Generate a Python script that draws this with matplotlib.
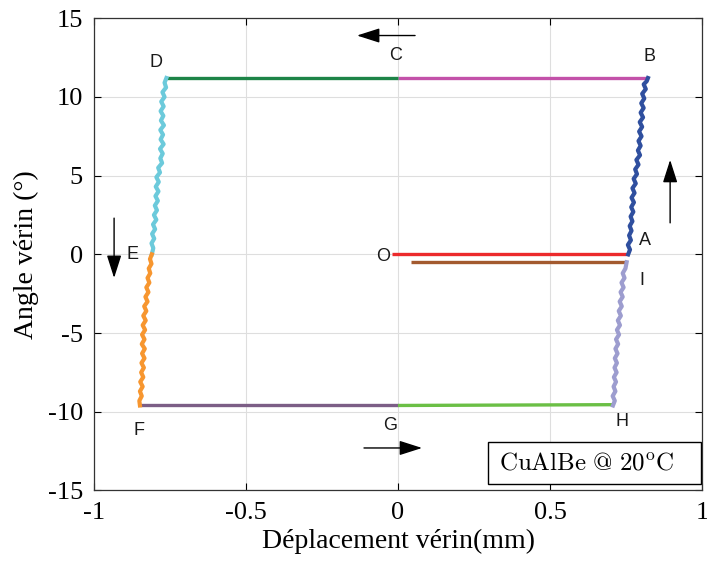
import matplotlib
matplotlib.use("Agg")
import matplotlib.pyplot as plt
from matplotlib.patches import Rectangle

plt.rcParams['axes.unicode_minus'] = False
plt.rcParams['mathtext.fontset'] = 'cm'

# ---- data ----
# horizontal branches
oa_x = [-0.02, 0.757]; oa_y = [0.0, 0.0]
bc_x = [0.822, 0.0];   bc_y = [11.2, 11.2]
cd_x = [0.0, -0.766];  cd_y = [11.2, 11.2]
fg_x = [-0.849, 0.0];  fg_y = [-9.6, -9.6]
gh_x = [0.0, 0.704];   gh_y = [-9.6, -9.55]
io_x = [0.747, 0.043]; io_y = [-0.5, -0.5]

# A -> B (loading, right branch)
ab_y = [0.0, 0.3, 0.6, 0.9, 1.2, 1.5, 1.8, 2.1, 2.4, 2.7, 3.0, 3.3, 3.6, 3.9, 4.2, 4.5,
        4.8, 5.1, 5.4, 5.7, 6.0, 6.3, 6.6, 6.9, 7.2, 7.5, 7.8, 8.1, 8.4, 8.7, 9.0, 9.3,
        9.6, 9.9, 10.2, 10.5, 10.8, 11.0, 11.2]
ab_x = [0.757, 0.763, 0.756, 0.766, 0.760, 0.768, 0.762, 0.771, 0.765, 0.774, 0.767, 0.776,
        0.768, 0.778, 0.771, 0.782, 0.775, 0.786, 0.780, 0.791, 0.784, 0.796, 0.789, 0.798,
        0.791, 0.801, 0.793, 0.803, 0.795, 0.806, 0.798, 0.808, 0.800, 0.810, 0.803, 0.815,
        0.808, 0.818, 0.822]

# D -> E (left branch, upper)
de_y = [11.2, 10.9, 10.6, 10.3, 10.0, 9.7, 9.4, 9.1, 8.8, 8.5, 8.2, 7.9, 7.6, 7.3, 7.0,
        6.7, 6.4, 6.1, 5.8, 5.5, 5.2, 4.9, 4.6, 4.3, 4.0, 3.7, 3.4, 3.1, 2.8, 2.5, 2.2,
        1.9, 1.6, 1.3, 1.0, 0.7, 0.4, 0.0]
de_x = [-0.762, -0.768, -0.763, -0.775, -0.768, -0.779, -0.771, -0.781, -0.772, -0.780,
        -0.770, -0.782, -0.773, -0.781, -0.771, -0.783, -0.774, -0.782, -0.776, -0.789,
        -0.783, -0.795, -0.787, -0.797, -0.788, -0.798, -0.790, -0.800, -0.793, -0.803,
        -0.795, -0.806, -0.799, -0.809, -0.802, -0.811, -0.805, -0.810]

# E -> F (left branch, lower)
ef_y = [0.0, -0.3, -0.6, -0.9, -1.2, -1.5, -1.8, -2.1, -2.4, -2.7, -3.0, -3.3, -3.6,
        -3.9, -4.2, -4.5, -4.8, -5.1, -5.4, -5.7, -6.0, -6.3, -6.6, -6.9, -7.2, -7.5,
        -7.8, -8.1, -8.4, -8.7, -9.0, -9.3, -9.6]
ef_x = [-0.810, -0.816, -0.811, -0.820, -0.815, -0.824, -0.818, -0.828, -0.821, -0.831,
        -0.824, -0.835, -0.828, -0.838, -0.830, -0.840, -0.832, -0.842, -0.834, -0.843,
        -0.833, -0.842, -0.834, -0.844, -0.836, -0.845, -0.838, -0.848, -0.840, -0.849,
        -0.843, -0.851, -0.849]

# H -> I (right branch, unloading)
hi_y = [-9.6, -9.3, -9.0, -8.7, -8.4, -8.1, -7.8, -7.5, -7.2, -6.9, -6.6, -6.3, -6.0,
        -5.7, -5.4, -5.1, -4.8, -4.5, -4.2, -3.9, -3.6, -3.3, -3.0, -2.7, -2.4, -2.1,
        -1.8, -1.5, -1.2, -0.9, -0.5]
hi_x = [0.707, 0.713, 0.706, 0.715, 0.709, 0.717, 0.710, 0.719, 0.712, 0.720, 0.713,
        0.722, 0.715, 0.724, 0.717, 0.727, 0.720, 0.730, 0.723, 0.733, 0.726, 0.736,
        0.729, 0.739, 0.732, 0.742, 0.735, 0.745, 0.739, 0.748, 0.752]

point_labels = ['O', 'A', 'B', 'C', 'D', 'E', 'F', 'G', 'H', 'I']
label_x = [-0.049, 0.812, 0.826, -0.007, -0.796, -0.872, -0.852, -0.026, 0.737, 0.803]
label_y = [-0.13, 0.9, 12.55, 12.6, 12.2, 0.0, -11.2, -10.9, -10.6, -1.66]

x_ticks = [-1, -0.5, 0, 0.5, 1]
x_ticklabels = ['-1', '-0.5', '0', '0.5', '1']
y_ticks = [-15, -10, -5, 0, 5, 10, 15]
y_ticklabels = ['-15', '-10', '-5', '0', '5', '10', '15']

# ---- figure ----
fig = plt.figure(figsize=(7.07, 5.69), dpi=100)
ax = fig.add_axes([0.133, 0.138, 0.860, 0.830])

lw = 2.4
ax.plot(oa_x, oa_y, color='#ec2a2c', lw=lw, solid_capstyle='butt')
ax.plot(io_x, io_y, color='#a35a2f', lw=lw, solid_capstyle='butt')
ax.plot(bc_x, bc_y, color='#c351a9', lw=lw, solid_capstyle='butt')
ax.plot(cd_x, cd_y, color='#1d8447', lw=lw, solid_capstyle='butt')
ax.plot(fg_x, fg_y, color='#7c5e86', lw=lw, solid_capstyle='butt')
ax.plot(gh_x, gh_y, color='#6bbf45', lw=lw, solid_capstyle='butt')
vlw = 3.0
ax.plot(ab_x, ab_y, color='#2f4f9f', lw=vlw)
ax.plot(de_x, de_y, color='#6ccadb', lw=vlw)
ax.plot(ef_x, ef_y, color='#f7962f', lw=vlw)
ax.plot(hi_x, hi_y, color='#9d9dcf', lw=vlw)

for t, lx, ly in zip(point_labels, label_x, label_y):
    ax.text(lx, ly, t, fontsize=13, family='Liberation Sans',
            ha='center', va='center', color='#1a1a1a')

arrow_kw = dict(arrowstyle='-|>,head_length=1.0,head_width=0.32', color='black',
                lw=1.0, shrinkA=0, shrinkB=0, mutation_scale=14)
ax.annotate('', xy=(-0.135, 13.9), xytext=(0.056, 13.9), arrowprops=arrow_kw)
ax.annotate('', xy=(0.079, -12.3), xytext=(-0.112, -12.3), arrowprops=arrow_kw)
ax.annotate('', xy=(0.895, 6.0), xytext=(0.895, 2.0), arrowprops=arrow_kw)
ax.annotate('', xy=(-0.934, -1.5), xytext=(-0.934, 2.3), arrowprops=arrow_kw)

# annotation box
ax.add_patch(Rectangle((0.296, -14.6), 0.70, 2.7, fill=True, facecolor='white',
                       edgecolor='black', lw=1.0, zorder=5))
ax.text(0.332, -13.25, r'$\mathrm{CuAlBe\ @\ 20^{o}C}$', fontsize=18,
        ha='left', va='center', zorder=6)

ax.set_xlim(-1, 1)
ax.set_ylim(-15, 15)
ax.set_xticks(x_ticks)
ax.set_xticklabels(x_ticklabels)
ax.set_yticks(y_ticks)
ax.set_yticklabels(y_ticklabels)
ax.grid(True, color='#dedede', lw=0.8)
ax.set_axisbelow(True)
ax.tick_params(direction='in', top=True, right=True, length=5, width=0.8,
               labelsize=19, pad=8)
for lab in ax.get_xticklabels() + ax.get_yticklabels():
    lab.set_family('Liberation Serif')
for s in ax.spines.values():
    s.set_color('#333333'); s.set_linewidth(0.9)

ax.set_xlabel('Déplacement vérin(mm)', family='Liberation Serif', fontsize=20, labelpad=4)
ax.set_ylabel('Angle vérin (°)', family='Liberation Serif', fontsize=20, labelpad=6)

fig.savefig('out.png', dpi=100)
